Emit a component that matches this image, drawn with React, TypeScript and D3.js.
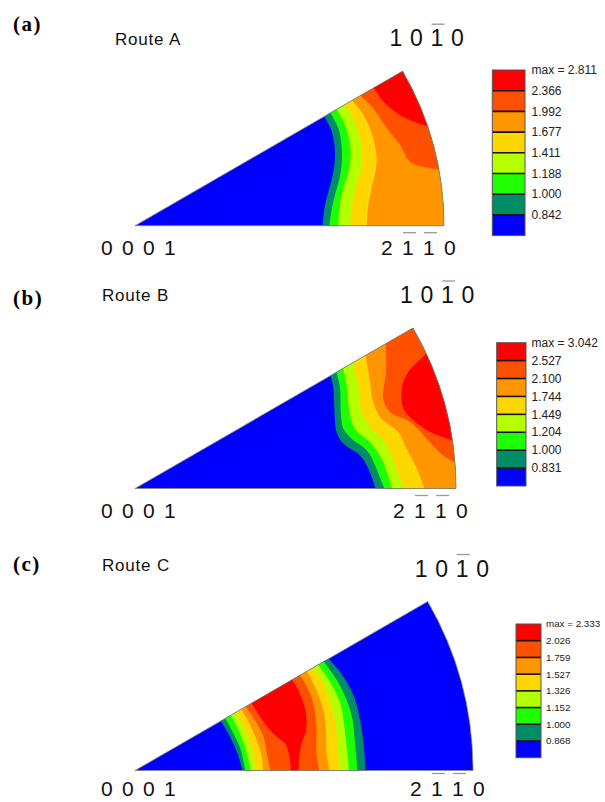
import React from 'react';
import * as d3 from 'd3';

// band colours, lowest level first
const bandColors = ['#0000ff', '#008c64', '#1eff00', '#b4ff00', '#ffd700', '#ff9600', '#ff5000', '#ff0000'];

// legend labels, top to bottom
const routeALabels = ['max = 2.811', '2.366', '1.992', '1.677', '1.411', '1.188', '1.000', '0.842'];
const routeBLabels = ['max = 3.042', '2.527', '2.100', '1.744', '1.449', '1.204', '1.000', '0.831'];
const routeCLabels = ['max = 2.333', '2.026', '1.759', '1.527', '1.326', '1.152', '1.000', '0.868'];

// contour lines as [u, v] in units of the sector radius, apex = 0001
// route A: levels 0.842 .. 2.366, region beyond each line is above the level
const routeAContours = [
  [[0.615, 0.350], [0.637, 0.304], [0.647, 0.240], [0.642, 0.175], [0.626, 0.110], [0.615, 0.067], [0.607, 0.002]],
  [[0.633, 0.364], [0.658, 0.315], [0.669, 0.250], [0.666, 0.175], [0.650, 0.110], [0.637, 0.056], [0.629, 0.002]],
  [[0.655, 0.374], [0.680, 0.326], [0.696, 0.261], [0.694, 0.186], [0.674, 0.121], [0.661, 0.056], [0.658, 0.002]],
  [[0.680, 0.391], [0.707, 0.342], [0.730, 0.272], [0.734, 0.196], [0.712, 0.121], [0.701, 0.056], [0.696, 0.002]],
  [[0.704, 0.404], [0.739, 0.358], [0.771, 0.283], [0.782, 0.207], [0.766, 0.121], [0.755, 0.067], [0.750, 0.002]],
  [[0.734, 0.418], [0.771, 0.380], [0.815, 0.315], [0.858, 0.261], [0.890, 0.207], [0.955, 0.186], [0.987, 0.180]],
  [[0.773, 0.445], [0.804, 0.401], [0.847, 0.365], [0.901, 0.337], [0.949, 0.320]],
];

// route B: levels 0.831 .. 2.527
const routeBContours = [
  [[0.610, 0.350], [0.618, 0.311], [0.621, 0.249], [0.628, 0.176], [0.649, 0.140], [0.701, 0.103], [0.727, 0.062], [0.748, 0.005]],
  [[0.628, 0.363], [0.639, 0.311], [0.641, 0.238], [0.649, 0.186], [0.675, 0.155], [0.722, 0.119], [0.748, 0.072], [0.775, 0.005]],
  [[0.649, 0.373], [0.661, 0.311], [0.668, 0.238], [0.685, 0.186], [0.732, 0.145], [0.768, 0.093], [0.800, 0.005]],
  [[0.680, 0.386], [0.696, 0.311], [0.706, 0.238], [0.737, 0.186], [0.779, 0.145], [0.805, 0.083], [0.835, 0.005]],
  [[0.720, 0.404], [0.732, 0.332], [0.742, 0.269], [0.768, 0.217], [0.820, 0.176], [0.846, 0.124], [0.878, 0.062], [0.900, 0.005]],
  [[0.782, 0.436], [0.782, 0.363], [0.773, 0.280], [0.794, 0.238], [0.857, 0.207], [0.909, 0.155], [0.960, 0.103], [0.994, 0.083]],
  [[0.907, 0.420], [0.851, 0.363], [0.831, 0.311], [0.836, 0.249], [0.862, 0.217], [0.919, 0.176], [0.987, 0.150]],
];

// route C: a ridge, rising lines on the apex side, falling lines outside
const routeCRising = [
  [[0.253, 0.149], [0.281, 0.100], [0.303, 0.051], [0.318, 0.0]],
  [[0.266, 0.157], [0.291, 0.110], [0.313, 0.061], [0.326, 0.0]],
  [[0.281, 0.167], [0.306, 0.120], [0.325, 0.071], [0.342, 0.0]],
  [[0.296, 0.174], [0.322, 0.130], [0.340, 0.080], [0.358, 0.0]],
  [[0.313, 0.184], [0.340, 0.135], [0.360, 0.090], [0.375, 0.041], [0.379, 0.0]],
  [[0.328, 0.189], [0.360, 0.140], [0.380, 0.100], [0.390, 0.051], [0.400, 0.0]],
  [[0.350, 0.191], [0.390, 0.130], [0.419, 0.100], [0.444, 0.080], [0.457, 0.041], [0.461, 0.0]],
];
const routeCFalling = [
  [[0.575, 0.329], [0.616, 0.278], [0.648, 0.218], [0.666, 0.149], [0.676, 0.080], [0.682, 0.0]],
  [[0.559, 0.322], [0.597, 0.268], [0.626, 0.209], [0.644, 0.149], [0.651, 0.080], [0.658, 0.0]],
  [[0.542, 0.312], [0.579, 0.258], [0.607, 0.199], [0.618, 0.140], [0.626, 0.071], [0.633, 0.0]],
  [[0.528, 0.305], [0.562, 0.248], [0.582, 0.189], [0.595, 0.130], [0.599, 0.071], [0.606, 0.0]],
  [[0.508, 0.295], [0.537, 0.238], [0.557, 0.179], [0.565, 0.120], [0.566, 0.061], [0.575, 0.0]],
  [[0.488, 0.283], [0.518, 0.228], [0.533, 0.169], [0.537, 0.110], [0.537, 0.051], [0.545, 0.0]],
  [[0.464, 0.270], [0.488, 0.228], [0.506, 0.169], [0.506, 0.120], [0.493, 0.080], [0.486, 0.041], [0.483, 0.0]],
];

// pole labels, bar = overline
const poleTop = [['1', false], ['0', false], ['1', true], ['0', false]];
const poleApex = [['0', false], ['0', false], ['0', false], ['1', false]];
const poleRight = [['2', false], ['1', true], ['1', true], ['0', false]];

const panels = [
  { id: 'a', title: 'Route A', letterY: 31, titleX: 115, titleY: 45, cx: 135, cy: 225.7, R: 309,
    rising: routeAContours, falling: null, labels: routeALabels,
    legend: { x: 492.3, y: 70, w: 32.7, h: 165.6, tx: 531.5, fs: 12 } },
  { id: 'b', title: 'Route B', letterY: 305, titleX: 102, titleY: 301, cx: 135, cy: 488.5, R: 321,
    rising: routeBContours, falling: null, labels: routeBLabels,
    legend: { x: 496.7, y: 342.7, w: 29.3, h: 143.3, tx: 531.5, fs: 12 } },
  { id: 'c', title: 'Route C', letterY: 571, titleX: 102, titleY: 571, cx: 135, cy: 770.5, R: 338,
    rising: routeCRising, falling: routeCFalling, labels: routeCLabels,
    legend: { x: 516, y: 624, w: 25, h: 133.7, tx: 546, fs: 9.8 } },
];

const sans = 'Liberation Sans, Arial, sans-serif';

// push the ends of a contour line past the sector edges so the clip trims them
function extend(pts) {
  const out = (p, q) => {
    const dx = p[0] - q[0], dy = p[1] - q[1];
    const l = Math.hypot(dx, dy);
    return [p[0] + (dx / l) * 0.12, p[1] + (dy / l) * 0.12];
  };
  const n = pts.length;
  return [out(pts[0], pts[1]), ...pts, out(pts[n - 1], pts[n - 2])];
}

function Pole({ chars, x0, y, fs, step, barDy }) {
  return (
    <g>
      {chars.map((c, i) => (
        <g key={i}>
          <text x={x0 + i * step} y={y} fontSize={fs} fontFamily={sans} fill="#111">{c[0]}</text>
          {c[1] && <line x1={x0 + i * step + 1} x2={x0 + i * step + 14} y1={y - barDy} y2={y - barDy} stroke="#999" strokeWidth={1.3} />}
        </g>
      ))}
    </g>
  );
}

function Panel({ p }) {
  const x = d3.scaleLinear().domain([0, 1]).range([p.cx, p.cx + p.R]);
  const y = d3.scaleLinear().domain([0, 1]).range([p.cy, p.cy - p.R]);
  const line = d3.line().x(d => x(d[0])).y(d => y(d[1])).curve(d3.curveCatmullRom.alpha(0.5));
  const wedge = d3.arc()({ innerRadius: 0, outerRadius: p.R, startAngle: Math.PI / 3, endAngle: Math.PI / 2 });

  const regions = p.rising.map((inner, i) => {
    let d = line(extend(inner));
    if (p.falling) {
      const outer = extend(p.falling[i]).slice().reverse();
      d += 'L' + line(outer).slice(1) + 'Z';
    } else {
      d += `L${x(1.25)},${y(-0.25)}L${x(1.25)},${y(0.85)}Z`;
    }
    return d;
  });

  const lg = p.legend;
  const cell = lg.h / bandColors.length;
  const topX = p.cx + p.R * Math.cos(Math.PI / 6);
  const topY = p.cy - p.R * Math.sin(Math.PI / 6);
  const baseY = Math.min(p.cy + 29.5, 796);

  return (
    <g>
      <text x={13} y={p.letterY} fontSize={21} fontWeight="bold" letterSpacing={1.5}
        fontFamily="Liberation Serif, Times New Roman, serif" fill="#000">({p.id})</text>
      <text x={p.titleX} y={p.titleY} fontSize={17} letterSpacing={0.8} fontFamily={sans} fill="#111">{p.title}</text>

      <clipPath id={'clip-' + p.id}>
        <path d={wedge} transform={`translate(${p.cx},${p.cy})`} />
      </clipPath>
      <g clipPath={`url(#clip-${p.id})`}>
        <path d={wedge} transform={`translate(${p.cx},${p.cy})`} fill={bandColors[0]} />
        {regions.map((d, i) => <path key={i} d={d} fill={bandColors[i + 1]} />)}
      </g>
      <path d={wedge} transform={`translate(${p.cx},${p.cy})`} fill="none" stroke="#777" strokeWidth={0.8} />

      <Pole chars={poleTop} x0={topX - 13} y={topY - 25} fs={23} step={20.5} barDy={22} />
      <Pole chars={poleApex} x0={101} y={baseY} fs={21} step={21} barDy={22.5} />
      <Pole chars={poleRight} x0={p.cx + p.R - 63} y={baseY} fs={21} step={21} barDy={22.5} />

      <g>
        {bandColors.slice().reverse().map((c, i) => (
          <rect key={i} x={lg.x} y={lg.y + i * cell} width={lg.w} height={cell} fill={c} />
        ))}
        {d3.range(1, bandColors.length).map(i => (
          <line key={i} x1={lg.x} x2={lg.x + lg.w} y1={lg.y + i * cell} y2={lg.y + i * cell} stroke="#111" strokeWidth={1.6} />
        ))}
        <rect x={lg.x} y={lg.y} width={lg.w} height={lg.h} fill="none" stroke="#555" strokeWidth={1} />
        {p.labels.map((t, i) => (
          <text key={i} x={lg.tx} y={lg.y + i * cell} dy="0.35em" fontSize={lg.fs} fontFamily={sans} fill="#222">{t}</text>
        ))}
      </g>
    </g>
  );
}

export default function App() {
  return (
    <div style={{ position: 'absolute', left: 0, top: 0 }}>
      <svg width={605} height={802} style={{ display: 'block', background: '#fff' }}>
        {panels.map(p => <Panel key={p.id} p={p} />)}
      </svg>
    </div>
  );
}
